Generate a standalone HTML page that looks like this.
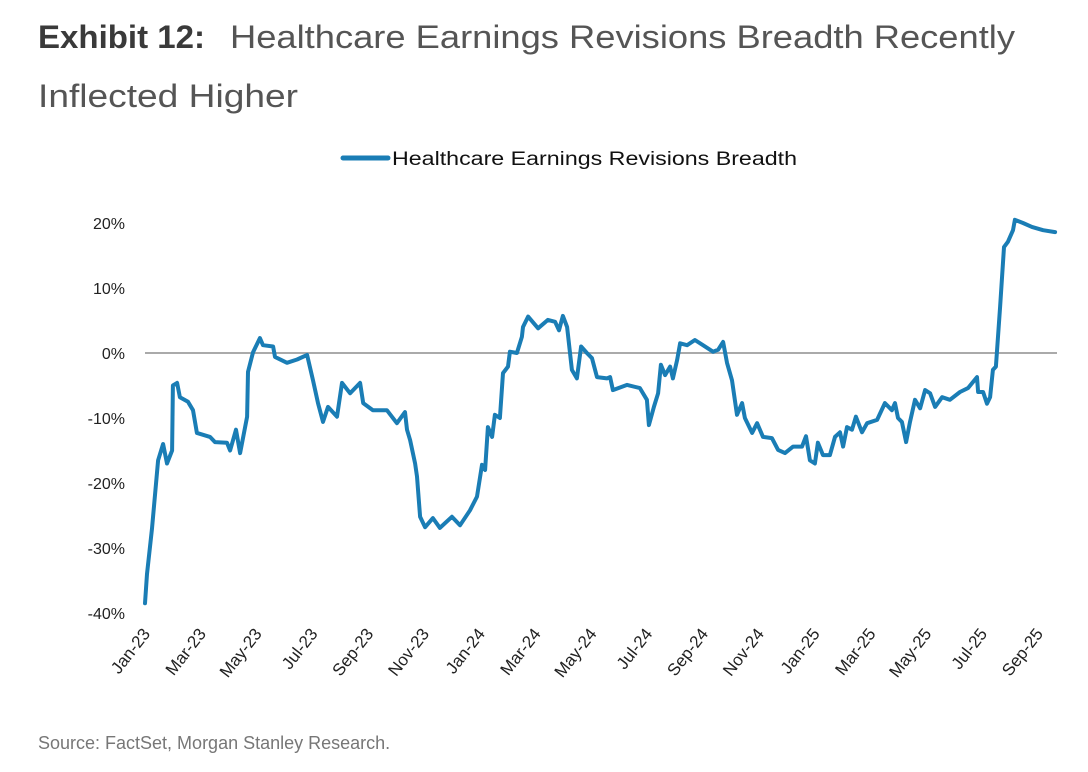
<!DOCTYPE html>
<html><head><meta charset="utf-8"><style>
html,body{margin:0;padding:0;background:#fff;}
svg{display:block;font-family:"Liberation Sans",sans-serif;}
</style></head><body>
<svg id="chart" width="1088" height="772" viewBox="0 0 1088 772" xmlns="http://www.w3.org/2000/svg">
<text x="38" y="48" font-size="32" font-weight="bold" fill="#3a3a3a" textLength="167" lengthAdjust="spacingAndGlyphs">Exhibit 12:</text>
<text x="230" y="48" font-size="32" fill="#555" textLength="785" lengthAdjust="spacingAndGlyphs">Healthcare Earnings Revisions Breadth Recently</text>
<text x="38" y="107" font-size="32" fill="#555" textLength="260" lengthAdjust="spacingAndGlyphs">Inflected Higher</text>
<g>
<line x1="343" y1="158" x2="388" y2="158" stroke="#1a7db5" stroke-width="5" stroke-linecap="round"/>
<text x="392" y="165" font-size="19" fill="#111" textLength="405" lengthAdjust="spacingAndGlyphs">Healthcare Earnings Revisions Breadth</text>
</g>
<g id="yaxis"></g>
<g id="xaxis"></g>
<line id="zero" stroke="#aaa" stroke-width="2"/>
<path id="series" fill="none" stroke="#1a7db5" stroke-width="4" stroke-linejoin="round" stroke-linecap="round"/>
<text x="38" y="749" font-size="18" fill="#777">Source: FactSet, Morgan Stanley Research.</text>
</svg>
<script>
// months since Jan-2023
const months = [0,0.07,0.25,0.47,0.65,0.79,0.97,1.0,1.15,1.25,1.54,1.72,1.86,2.33,2.51,2.94,3.05,3.26,3.41,3.66,3.69,3.87,4.12,4.23,4.59,4.66,5.09,5.45,5.81,6.02,6.2,6.38,6.56,6.88,7.06,7.35,7.71,7.82,8.17,8.67,9.03,9.32,9.39,9.5,9.68,9.75,9.86,10.04,10.32,10.57,11.0,11.29,11.65,11.9,12.08,12.19,12.29,12.44,12.54,12.72,12.83,13.01,13.08,13.33,13.51,13.55,13.73,14.09,14.44,14.7,14.84,14.98,15.13,15.3,15.48,15.63,15.84,16.02,16.2,16.56,16.67,16.77,17.28,17.74,17.99,18.06,18.24,18.39,18.49,18.64,18.82,18.92,19.07,19.18,19.43,19.71,20.0,20.36,20.54,20.72,20.86,21.04,21.22,21.4,21.5,21.76,21.94,22.15,22.47,22.69,22.94,23.23,23.55,23.69,23.83,24.01,24.12,24.3,24.55,24.73,24.91,25.02,25.16,25.34,25.48,25.7,25.88,26.24,26.52,26.77,26.88,26.99,27.13,27.28,27.42,27.6,27.78,27.96,28.14,28.32,28.57,28.85,29.21,29.5,29.82,29.86,30.04,30.18,30.29,30.39,30.5,30.65,30.79,30.93,31.11,31.18,31.47,31.79,32.19,32.62];
const values = [-38.5,-34,-27,-16.5,-14,-17,-15,-5,-4.6,-6.8,-7.5,-8.8,-12.3,-12.9,-13.7,-13.8,-15,-11.8,-15.4,-9.8,-2.9,0.1,2.3,1.2,1,-0.6,-1.5,-1,-0.3,-4.2,-7.7,-10.6,-8.3,-9.8,-4.6,-6.2,-4.6,-7.7,-8.8,-8.8,-10.8,-9.1,-11.8,-13.4,-17,-19,-25.2,-26.8,-25.4,-26.9,-25.2,-26.5,-24.2,-22.1,-17.2,-18,-11.4,-12.9,-9.5,-10,-3.1,-2.1,0.2,0,2.5,4,5.6,3.8,5.1,4.8,3.5,5.7,4,-2.6,-3.9,1,0,-0.8,-3.7,-3.9,-3.7,-5.7,-4.9,-5.4,-7.2,-11.1,-8.3,-6.2,-1.8,-3.4,-2.1,-3.9,-1.1,1.5,1.2,2,1.2,0.2,0.5,1.7,-1.5,-4.2,-9.5,-7.7,-10,-12.3,-10.8,-12.9,-13.1,-14.9,-15.4,-14.4,-14.4,-12.8,-16.5,-17,-13.8,-15.7,-15.7,-12.9,-12.2,-14.4,-11.4,-11.8,-9.8,-12.2,-10.8,-10.3,-7.7,-8.8,-7.7,-10,-10.6,-13.7,-10.6,-7.2,-8.5,-5.7,-6.2,-8.3,-6.8,-7.2,-6,-5.4,-3.7,-6,-6,-7.8,-6.8,-2.6,-2.1,7.1,16.3,17.1,18.9,20.5,20,19.4,18.9,18.6];
const yTicks = [20,10,0,-10,-20,-30,-40];
const xTickLabels = ["Jan-23","Mar-23","May-23","Jul-23","Sep-23","Nov-23","Jan-24","Mar-24","May-24","Jul-24","Sep-24","Nov-24","Jan-25","Mar-25","May-25","Jul-25","Sep-25"];

const NS="http://www.w3.org/2000/svg";
const X0=145, PXM=27.9, XEND=1057;
const xs = m => X0 + m*PXM;
const ys = v => 353 - v*6.5;

const yg=document.getElementById('yaxis');
yTicks.forEach(v=>{
  const t=document.createElementNS(NS,'text');
  
  
  t.setAttribute('x',125); t.setAttribute('y',ys(v)+6);
  t.setAttribute('text-anchor','end'); t.setAttribute('font-size','16'); t.setAttribute('fill','#222');
  t.textContent=v+'%';
  yg.appendChild(t);
});
const xg=document.getElementById('xaxis');
xTickLabels.forEach((lab,i)=>{
  const x=xs(i*2)+6, y=634;
  const t=document.createElementNS(NS,'text');
  
  
  t.setAttribute('x',x); t.setAttribute('y',y);
  t.setAttribute('text-anchor','end'); t.setAttribute('font-size','17'); t.setAttribute('fill','#222');
  t.setAttribute('transform','rotate(-52 '+x+' '+y+')');
  t.textContent=lab;
  xg.appendChild(t);
});
const z=document.getElementById('zero');
z.setAttribute('x1',X0); z.setAttribute('x2',XEND); z.setAttribute('y1',ys(0)); z.setAttribute('y2',ys(0));
document.getElementById('series').setAttribute('d',
  months.map((m,i)=>(i?'L':'M')+xs(m).toFixed(1)+' '+ys(values[i]).toFixed(1)).join(' '));
</script>
</body></html>
